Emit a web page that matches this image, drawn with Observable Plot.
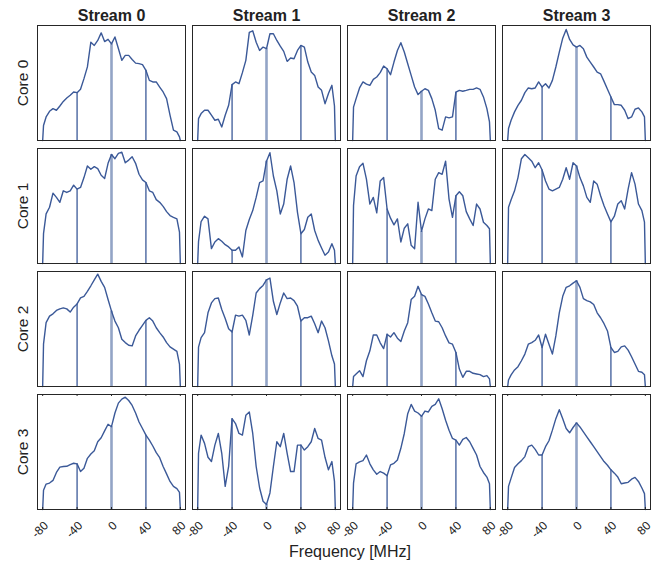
<!DOCTYPE html>
<html><head><meta charset="utf-8">
<script src="https://cdn.jsdelivr.net/npm/d3@7"></script>
<script src="https://cdn.jsdelivr.net/npm/@observablehq/plot@0.6"></script>
<style>
html,body{margin:0;padding:0;background:#fff;}
#chart{width:659px;height:567px;}
</style></head><body><div id="chart"></div>
<script>
// Frequency grid [MHz]
const freqs = [-80,-79,-76,-72,-68,-64,-60,-56,-52,-48,-44,-40,-36,-32,-28,-24,-20,-16,-12,-8,-4,0,4,8,12,16,20,24,28,32,36,40,44,48,52,56,60,64,68,72,76,79,80];
const markerFreqs = [-40, 0, 40];
const xTicks = [-80, -40, 0, 40, 80];
const streams = [0, 1, 2, 3];
const cores = [0, 1, 2, 3];

// Relative spectrum level (% of panel height)
const core0_stream0 = [0,13,20.5,25.4,27.7,26.3,30,34,37,39.3,42.2,41.6,44.5,53.8,64,85.5,82.7,87,93.6,86,88,84,90,80,69.7,74,74,70.5,67.3,66.8,66,61,52.3,50.9,50.9,46.5,42.2,36.4,22,9,7.5,3.2,0];
const core0_stream1 = [0,19,23.4,26.3,26.3,22,17.6,18.5,11.8,22,30.6,48.6,50.9,49.4,59,69.7,94,95.4,85.5,78.3,81.2,79.8,92.8,92.8,87,82,77.5,68.8,71.7,71.1,78.3,82.7,81.2,68.2,59.5,56.6,46.5,43.6,32,40.8,48,30,0];
const core0_stream2 = [0,29,36.4,45.7,50.9,49,48,53.2,55.2,59,64.7,62.4,57.2,68.2,78.3,85,76.9,66.8,56.6,46.5,39.9,42.8,45,43.6,36.4,26.3,10.4,9,20.5,19.7,20.5,42,43.6,42.8,43.6,44.5,44.5,45.7,44.5,37.9,27.7,16.2,0];
const core0_stream3 = [0,10.4,17.6,24.9,30.6,35,41.6,45.7,45,45.7,50.9,46.5,49.4,45.7,52.3,63.9,76.9,89,96.5,87.9,83.2,81.2,82.7,79.8,72.5,68.2,63.9,59.5,58,51.4,44.5,37.9,31.2,31.2,30.6,26.3,19,20.5,27.2,28.3,24.9,20.5,0];
const core1_stream0 = [0,25.9,43.1,48.9,61.2,57.5,53.2,63.2,61.8,63.2,68.1,64.7,66.1,74.7,84.8,81.9,84.2,82.5,76.7,73.9,87.1,94.8,91.1,95.7,96.8,87.6,89.9,92.8,87.1,77.6,72.7,70.4,63.2,61.8,55.5,53.2,49.7,45.1,41.7,40.2,38.8,27.3,0];
const core1_stream1 = [0,19,36.5,41.1,38.8,12.9,18.7,21.6,19.3,16.4,14.4,11.5,11.5,14.4,5.7,28.7,38.2,46,57.5,70.4,71.8,89,96.3,76.1,63.2,43.1,51.7,73.3,84.8,70.4,44.5,25.9,29.6,40.2,43.1,28.7,20.1,13.5,7.2,10,17.2,11.5,0];
const core1_stream2 = [0,50.3,76.1,84.2,87.1,73.3,51.7,57.5,44,71.8,74.7,47.4,39.4,33.6,38.8,18.7,30.7,34.5,15.8,12.9,53.2,28,38.8,47.4,46,73.3,79,77.6,89,56,40.2,58.9,62.4,58.9,45.1,38.8,33,51.7,47.4,35.9,33,30.2,0];
const core1_stream3 = [0,48.9,55.5,63.2,74.7,91.1,94.8,92,89,83.3,87.6,81.3,71.8,64.7,63.2,64.7,66.1,73.3,83.3,73.3,87.6,84.8,74.7,67.5,57.5,53.2,71.8,69,58.9,50.3,43.1,36.2,41.1,51.7,54.6,47.4,64.7,79,69,51.7,46,35.9,0];
const core2_stream0 = [0,36.8,55.5,61.2,63.2,66.1,67.5,68.4,67.5,64.7,69,71.8,77,78.4,82.8,87.6,92.8,97.7,91.4,86.2,75.6,65.5,56.9,51.1,41.1,38.2,35.9,35.3,44,48.9,53.2,57.5,59.8,56.9,51.1,46.8,43.1,38.2,34.5,32.5,30.5,19.5,0];
const core2_stream1 = [0,34.2,42.5,46.8,64.1,72.7,76.4,77,67,59.2,50.3,47.4,62.1,61.2,62.1,57.5,44.8,61.8,81.3,85.1,87.9,92.8,94.3,74.1,62.6,72.7,81.3,76.4,77,74.7,69.8,56.9,59.8,59.8,61.2,54.6,46.8,56.9,51.1,39.7,26.7,19.5,0];
const core2_stream2 = [0,8.6,10.9,13.8,8.6,22.4,31,44.8,44.8,38,33,45.4,43.1,46.8,42,39.1,48.3,55.5,75.6,78.4,87.1,79.9,78.4,71.8,64.1,56.9,56.3,51.1,44,37.9,36.8,29.6,15.2,8,13.2,13.2,11.5,10.9,10.3,8.6,9.5,6.6,0];
const core2_stream3 = [0,5.7,10.1,14.4,17.2,22.4,28.2,36.8,38.2,40.2,44.8,33.9,45.4,36.8,28.2,44,64.1,78.4,86.2,87.6,89.9,92,86.2,76.4,74.7,73.6,71.3,64.1,59.8,54.6,48.3,33.9,29.6,30.5,34.5,35.3,31.6,25.9,19.5,13.2,12.4,10.3,0];
const core3_stream0 = [0,16.7,22.1,23,25.3,32.2,36.8,37.4,37.6,39.1,40.2,39.7,33,35.9,44.5,48.3,51.1,58.9,62.4,68.4,74.1,72,83.9,92.5,96,97.7,94.8,90.5,83.9,76.1,70.4,64.7,60.3,55.2,49.4,45.1,37.4,31,24.4,20.1,18.1,14.9,0];
const core3_stream1 = [0,48.9,64.7,57.5,45.4,41.7,56,66.1,48.9,20.1,37.4,79,74.7,66.1,64.7,81.9,84.8,66.1,37.4,18.7,7.2,4.3,14.4,37.4,58.9,54.6,66.1,48.9,33,33,56,56,51.7,54.6,58.9,70.4,61.8,60.3,45.4,34.5,41.7,24.4,0];
const core3_stream2 = [0,23,39.7,41.4,42.5,47.4,39.7,34.5,30.7,33,31.6,29.3,38.8,40.2,43.1,53.2,66.1,83.3,91.4,85.6,83.9,81,85.6,84.8,89.7,91.4,96.3,87.6,77.6,69,61.8,60.3,56,60.9,62.6,58.9,53.2,47.4,37.4,32.2,28.2,22.4,0];
const core3_stream3 = [0,20.1,27.3,36.5,39.7,42.5,46,54.6,56,52.3,47.4,47.4,54.6,59.8,69,79,86.8,79,70.4,66.7,71.3,75.3,71.8,67.5,63.2,58.9,54.6,50.3,46,41.7,38.5,34.5,31.6,28.2,22.4,23,23.6,26.4,27.9,24.4,18.7,13.8,0];

const series = [
  [core0_stream0, core0_stream1, core0_stream2, core0_stream3],
  [core1_stream0, core1_stream1, core1_stream2, core1_stream3],
  [core2_stream0, core2_stream1, core2_stream2, core2_stream3],
  [core3_stream0, core3_stream1, core3_stream2, core3_stream3]
];

const rows = [];
const markers = [];
cores.forEach(c => streams.forEach(s => {
  series[c][s].forEach((v, i) => rows.push({core: c, stream: s, f: freqs[i], v}));
  markerFreqs.forEach(m => markers.push({core: c, stream: s, f: m, v: series[c][s][freqs.indexOf(m)]}));
}));
const lastCore = cores[cores.length - 1];
const tickRows = streams.flatMap(s => xTicks.map(t => ({core: lastCore, stream: s, f: t})));

const color = "#3b5998";
const frameColor = "#262626";

const plot = Plot.plot({
  width: 659,
  height: 567,
  marginTop: 23,
  marginBottom: 56,
  marginLeft: 36,
  marginRight: 9,
  style: {fontFamily: "'Liberation Sans', Arial, Helvetica, sans-serif", background: "white", color: "#222"},
  x: {domain: [-86, 86]},
  y: {domain: [0, 100], axis: null},
  fx: {domain: streams, paddingInner: 0.0472, paddingOuter: 0},
  fy: {domain: cores, paddingInner: 0.0645, paddingOuter: 0},
  marks: [
    Plot.ruleX(markers.filter(d => d.f !== 0), {x: "f", y1: 0, y2: "v", fx: "stream", fy: "core", stroke: color, strokeWidth: 1.3}),
    Plot.ruleX(markers.filter(d => d.f === 0), {x: "f", y1: 0, y2: "v", fx: "stream", fy: "core", stroke: color, strokeWidth: 2.6, strokeOpacity: 0.55}),
    Plot.line(rows, {x: "f", y: "v", fx: "stream", fy: "core", stroke: color, strokeWidth: 1.4, strokeLinejoin: "round"}),
    Plot.tickX(tickRows, {x: "f", fx: "stream", fy: "core", stroke: frameColor, strokeWidth: 1, insetTop: 113}),
    Plot.tickX(tickRows, {x: "f", fx: "stream", fy: "core", stroke: frameColor, strokeWidth: 1, insetBottom: 113}),
    Plot.frame({stroke: frameColor, strokeWidth: 1}),
    Plot.axisFx({anchor: "top", tickSize: 0, tickPadding: 5, fontSize: 16, fontWeight: "bold", tickFormat: d => `Stream ${d}`, label: null}),
    Plot.axisFy({anchor: "left", tickSize: 0, tickRotate: -90, tickPadding: 10, fontSize: 15.5, tickFormat: d => `Core ${d}`, label: null}),
    Plot.axisX(xTicks, {anchor: "bottom", tickSize: 0, tickPadding: 14, dx: 3.5, tickRotate: -45, fontSize: 12, label: null, tickFormat: d => String(d)})
  ]
});

d3.select(plot).append("text")
  .attr("x", 350).attr("y", 557)
  .attr("text-anchor", "middle")
  .attr("font-size", 16)
  .attr("fill", "#222")
  .text("Frequency [MHz]");

document.getElementById("chart").appendChild(plot);
</script>
</body></html>
